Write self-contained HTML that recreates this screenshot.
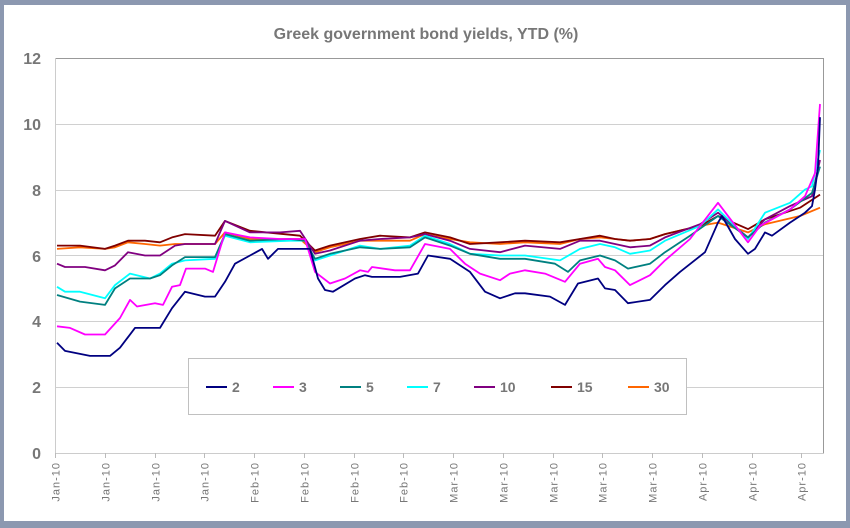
<!DOCTYPE html>
<html><head><meta charset="utf-8"><style>
html,body{margin:0;padding:0;background:#8c98b0;}
svg{display:block;font-family:"Liberation Sans",Arial,sans-serif;}
</style></head><body>
<svg id="s" width="850" height="528" xmlns="http://www.w3.org/2000/svg">
<rect x="0" y="0" width="850" height="528" fill="#8c98b0"/>
<rect x="4" y="5" width="842" height="516" fill="#fff"/>
<text x="426" y="39" text-anchor="middle" font-size="16" font-weight="bold" fill="#777">Greek government bond yields, YTD (%)</text>
<g stroke="#d0d0d0" stroke-width="1">
<line x1="55" y1="387.5" x2="823" y2="387.5"/>
<line x1="55" y1="321.5" x2="823" y2="321.5"/>
<line x1="55" y1="255.5" x2="823" y2="255.5"/>
<line x1="55" y1="190.5" x2="823" y2="190.5"/>
<line x1="55" y1="124.5" x2="823" y2="124.5"/>
</g>
<rect x="55.5" y="58.5" width="768" height="395" fill="none" stroke="#999"/>
<line x1="55.5" y1="58" x2="55.5" y2="454" stroke="#ccc"/>
<line x1="55" y1="453.5" x2="824" y2="453.5" stroke="#ccc"/>
<g font-size="16" fill="#777" text-anchor="end" font-weight="bold">
<text x="41" y="459">0</text><text x="41" y="393">2</text><text x="41" y="327">4</text>
<text x="41" y="262">6</text><text x="41" y="196">8</text><text x="41" y="130">10</text><text x="41" y="64">12</text>
</g>
<g id="ticks"></g>
<g id="series" fill="none" stroke-width="1.8" stroke-linejoin="round"></g>
<rect x="188.5" y="358.5" width="498" height="56" fill="#fff" stroke="#c0c0c0"/>
<g stroke-width="2">
<line x1="206" y1="387" x2="227" y2="387" stroke="#000080"/>
<line x1="273" y1="387" x2="294" y2="387" stroke="#ff00ff"/>
<line x1="340" y1="387" x2="361" y2="387" stroke="#008080"/>
<line x1="407" y1="387" x2="428" y2="387" stroke="#00ffff"/>
<line x1="474" y1="387" x2="495" y2="387" stroke="#800080"/>
<line x1="551" y1="387" x2="572" y2="387" stroke="#800000"/>
<line x1="628" y1="387" x2="649" y2="387" stroke="#ff6600"/>
</g>
<g font-size="14" font-weight="bold" fill="#777">
<text x="232" y="392">2</text><text x="299" y="392">3</text><text x="366" y="392">5</text>
<text x="433" y="392">7</text><text x="500" y="392">10</text><text x="577" y="392">15</text><text x="654" y="392">30</text>
</g>
</svg>
<script>
var Y=function(v){return 453-v*32.92;};
var ns="http://www.w3.org/2000/svg";
var labels=["Jan-10","Jan-10","Jan-10","Jan-10","Feb-10","Feb-10","Feb-10","Feb-10","Mar-10","Mar-10","Mar-10","Mar-10","Mar-10","Apr-10","Apr-10","Apr-10"];
var tg=document.getElementById("ticks");
for(var i=0;i<16;i++){var x=Math.round(55+i*49.75)+0.5;
var l=document.createElementNS(ns,"line");l.setAttribute("x1",x);l.setAttribute("x2",x);l.setAttribute("y1",453);l.setAttribute("y2",458);l.setAttribute("stroke","#bbb");tg.appendChild(l);
var t=document.createElementNS(ns,"text");t.setAttribute("transform","translate("+(x+4)+",462) rotate(-90)");t.setAttribute("text-anchor","end");t.setAttribute("font-size","11");t.setAttribute("letter-spacing","1");t.setAttribute("fill","#777");t.textContent=labels[i];tg.appendChild(t);}
var S=[
["#ff6600",[57,6.2,80,6.25,105,6.2,115,6.25,128,6.4,145,6.35,160,6.3,175,6.35,215,6.35,225,6.7,250,6.5,300,6.5,315,6.1,330,6.25,360,6.45,380,6.45,410,6.45,425,6.65,450,6.5,470,6.4,500,6.35,525,6.4,560,6.35,580,6.5,600,6.55,615,6.5,630,6.45,650,6.5,665,6.65,700,6.9,718,7.0,748,6.7,765,6.95,800,7.2,820,7.45]],
["#800000",[57,6.3,80,6.3,105,6.2,115,6.3,128,6.45,145,6.45,160,6.4,172,6.55,185,6.65,215,6.6,225,7.05,250,6.75,300,6.6,315,6.15,330,6.3,360,6.5,380,6.6,410,6.55,425,6.7,450,6.55,470,6.35,500,6.4,525,6.45,560,6.4,580,6.5,600,6.6,615,6.5,630,6.45,650,6.5,665,6.65,700,6.9,718,7.2,748,6.8,765,7.1,800,7.45,820,7.85]],
["#800080",[57,5.75,65,5.65,85,5.65,105,5.55,115,5.7,128,6.1,145,6.0,160,6.0,175,6.3,185,6.35,215,6.35,225,7.05,250,6.7,280,6.7,300,6.75,315,6.05,330,6.15,360,6.45,380,6.5,410,6.55,425,6.65,450,6.45,470,6.2,500,6.1,525,6.3,560,6.2,580,6.45,600,6.45,615,6.35,630,6.25,650,6.3,665,6.55,700,6.95,718,7.3,748,6.55,765,7.1,790,7.5,812,7.8,820,8.9]],
["#00ffff",[57,5.05,65,4.9,80,4.9,105,4.7,115,5.1,130,5.45,150,5.3,160,5.45,172,5.75,185,5.85,215,5.9,225,6.6,250,6.4,290,6.45,305,6.45,315,5.85,330,6.0,360,6.3,380,6.2,410,6.3,425,6.6,450,6.35,470,6.05,500,6.0,525,6.0,560,5.85,580,6.2,600,6.35,615,6.25,630,6.05,650,6.15,665,6.45,700,6.9,718,7.4,748,6.5,765,7.3,790,7.6,805,8.0,812,8.1,820,9.2]],
["#008080",[57,4.8,80,4.6,105,4.5,115,5.0,130,5.3,150,5.3,160,5.4,172,5.7,185,5.95,215,5.95,225,6.65,250,6.45,290,6.5,305,6.45,315,5.9,330,6.05,360,6.25,380,6.2,410,6.25,425,6.55,450,6.3,470,6.05,500,5.9,525,5.9,555,5.75,568,5.5,580,5.85,600,6.0,615,5.85,628,5.6,650,5.75,665,6.1,690,6.6,718,7.2,748,6.55,765,7.0,790,7.4,812,7.9,820,8.7]],
["#ff00ff",[57,3.85,70,3.8,85,3.6,105,3.6,120,4.1,130,4.65,137,4.45,155,4.55,163,4.5,172,5.05,180,5.1,186,5.6,205,5.6,213,5.5,225,6.7,250,6.55,280,6.5,305,6.5,315,5.5,330,5.15,345,5.3,360,5.55,368,5.5,372,5.65,395,5.55,410,5.55,425,6.35,450,6.2,465,5.75,480,5.45,500,5.25,510,5.45,525,5.55,545,5.45,565,5.2,580,5.75,598,5.9,605,5.65,615,5.55,630,5.1,650,5.4,665,5.85,690,6.5,718,7.6,748,6.4,760,6.9,790,7.4,805,7.8,815,8.5,820,10.6]],
["#000080",[57,3.35,65,3.1,90,2.95,110,2.95,120,3.2,135,3.8,160,3.8,172,4.4,185,4.9,205,4.75,215,4.75,225,5.2,235,5.75,250,6.0,262,6.2,268,5.9,278,6.2,310,6.2,318,5.3,325,4.95,333,4.9,355,5.3,365,5.4,372,5.35,400,5.35,418,5.45,428,6.0,450,5.9,470,5.5,485,4.9,500,4.7,515,4.85,525,4.85,550,4.75,565,4.5,578,5.15,598,5.3,605,5.0,615,4.95,628,4.55,650,4.65,665,5.1,680,5.5,705,6.1,718,7.0,722,7.2,735,6.5,748,6.05,755,6.2,765,6.7,772,6.6,790,7.0,805,7.3,812,7.5,815,8.0,818,8.7,820,10.2]]
];
var sg=document.getElementById("series");
S.forEach(function(s){var a=s[1],p=[];for(var i=0;i<a.length;i+=2)p.push(a[i]+","+Y(a[i+1]).toFixed(1));
var pl=document.createElementNS(ns,"polyline");pl.setAttribute("points",p.join(" "));pl.setAttribute("stroke",s[0]);sg.appendChild(pl);});
</script>
</body></html>
